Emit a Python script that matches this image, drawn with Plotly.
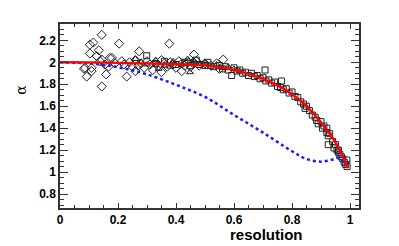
import plotly.graph_objects as go

# red fit curve
red_x = [0.0, 0.1, 0.2, 0.3, 0.4, 0.5, 0.55, 0.6, 0.65, 0.7, 0.75, 0.8, 0.85, 0.9, 0.95, 0.993]
red_y = [2.0, 1.998, 1.995, 1.99, 1.982, 1.972, 1.955, 1.93, 1.895, 1.85, 1.79, 1.71, 1.6, 1.45, 1.27, 1.035]

# blue dotted curve
blue_x = [0.0, 0.1, 0.2, 0.3, 0.4, 0.5, 0.6, 0.7, 0.8, 0.85, 0.9, 0.94, 0.965, 0.993]
blue_y = [2.0, 1.99, 1.955, 1.89, 1.795, 1.685, 1.52, 1.36, 1.19, 1.12, 1.095, 1.115, 1.13, 1.035]

# diamonds
dia_x = [0.083, 0.086, 0.092, 0.103, 0.103, 0.109, 0.109, 0.115, 0.127, 0.134, 0.138, 0.144, 0.144, 0.144,
         0.155, 0.159, 0.167, 0.172, 0.179, 0.19, 0.204, 0.213, 0.23, 0.273, 0.377, 0.462, 0.563,
         0.22, 0.24, 0.25, 0.26, 0.27, 0.28, 0.29, 0.30, 0.31, 0.32, 0.33, 0.34, 0.35, 0.36, 0.37,
         0.38, 0.39, 0.40, 0.41, 0.42, 0.43, 0.44, 0.45, 0.46, 0.47, 0.48, 0.50, 0.52, 0.54,
         0.26, 0.35, 0.42, 0.55]
dia_y = [1.94, 1.95, 1.87, 2.08, 2.16, 1.92, 1.95, 2.18, 2.055, 2.11, 2.01, 2.25, 1.78, 2.025,
         1.98, 1.89, 1.96, 2.04, 2.04, 1.99, 2.17, 2.01, 1.87, 2.10, 2.17, 2.07, 2.025,
         1.98, 2.00, 1.96, 2.02, 1.97, 1.99, 1.95, 2.01, 1.98, 1.93, 2.00, 1.97, 2.02, 1.99, 1.96,
         2.00, 1.98, 1.95, 2.01, 1.99, 1.97, 2.00, 1.96, 1.99, 2.01, 1.97, 1.99, 1.97, 1.99,
         1.92, 1.91, 1.92, 1.94]

# triangles
tri_x = [0.26, 0.28, 0.30, 0.33, 0.34, 0.36, 0.38, 0.39, 0.42, 0.44, 0.448, 0.46, 0.47, 0.50,
         0.52, 0.54, 0.56, 0.58, 0.60, 0.62]
tri_y = [2.03, 2.00, 1.98, 2.02, 1.94, 1.97, 1.96, 2.01, 1.98, 2.03, 1.91, 2.02, 1.99, 2.00,
         1.96, 1.98, 1.95, 1.96, 1.94, 1.92]

# squares
sq_x = [0.299, 0.33, 0.36, 0.40, 0.43, 0.45, 0.47, 0.48, 0.50, 0.51, 0.53, 0.55, 0.56, 0.57, 0.58,
        0.592, 0.60, 0.61, 0.62, 0.63, 0.64, 0.65, 0.66, 0.67, 0.68, 0.69, 0.70, 0.707, 0.71, 0.72,
        0.73, 0.74, 0.75, 0.764, 0.76, 0.77, 0.78, 0.79, 0.80, 0.81, 0.82, 0.83, 0.84, 0.845, 0.85,
        0.86, 0.87, 0.88, 0.885, 0.89, 0.90, 0.905, 0.91, 0.92, 0.92, 0.925, 0.925, 0.93, 0.94,
        0.945, 0.95, 0.955, 0.96, 0.96, 0.965, 0.97, 0.975, 0.98, 0.985, 0.989, 0.99]
sq_y = [2.06, 1.99, 2.01, 1.98, 2.00, 1.97, 2.02, 1.98, 1.97, 2.00, 1.96, 1.97, 1.94, 1.96, 1.93,
        1.88, 1.95, 1.92, 1.93, 1.90, 1.91, 1.88, 1.90, 1.87, 1.88, 1.85, 1.86, 1.93, 1.83, 1.84,
        1.81, 1.82, 1.78, 1.83, 1.77, 1.75, 1.76, 1.72, 1.73, 1.69, 1.68, 1.64, 1.62, 1.58, 1.60,
        1.56, 1.52, 1.50, 1.47, 1.44, 1.46, 1.40, 1.42, 1.36, 1.40, 1.33, 1.25, 1.35, 1.28,
        1.22, 1.25, 1.20, 1.18, 1.20, 1.16, 1.14, 1.12, 1.09, 1.07, 1.11, 1.05]

fig = go.Figure()
mk = dict(color="#222", line=dict(color="#222", width=1))
fig.add_trace(go.Scatter(x=dia_x, y=dia_y, mode="markers",
                         marker=dict(symbol="diamond-open", size=7, **mk)))
fig.add_trace(go.Scatter(x=tri_x, y=tri_y, mode="markers",
                         marker=dict(symbol="triangle-up-open", size=6, **mk)))
fig.add_trace(go.Scatter(x=sq_x, y=sq_y, mode="markers",
                         marker=dict(symbol="square-open", size=6, **mk)))
fig.add_trace(go.Scatter(x=blue_x, y=blue_y, mode="lines",
                         line=dict(color="#1a1aff", width=2.5, dash="dot", shape="spline")))
fig.add_trace(go.Scatter(x=red_x, y=red_y, mode="lines",
                         line=dict(color="#ff0000", width=2.4, shape="spline")))

tf = dict(family="Liberation Sans, Arial, sans-serif", size=12, color="black", weight="bold")
fig.update_xaxes(range=[0, 1.031], dtick=0.2, tick0=0, ticks="inside", ticklen=5, tickwidth=1,
                 tickcolor="#333", showline=True, linecolor="#333", linewidth=1.5, mirror="ticks",
                 showgrid=False, zeroline=False, tickfont=tf, automargin=False,
                 minor=dict(dtick=0.05, ticks="inside", ticklen=3, tickcolor="#333", showgrid=False))
fig.update_yaxes(range=[0.673, 2.349], dtick=0.2, tick0=0, ticks="inside", ticklen=8, tickwidth=1,
                 tickcolor="#333", showline=True, linecolor="#333", linewidth=1.5, mirror="ticks",
                 showgrid=False, zeroline=False, tickfont=tf, automargin=False,
                 minor=dict(dtick=0.05, ticks="inside", ticklen=4, tickcolor="#333", showgrid=False))

fig.add_annotation(text="resolution", xref="paper", yref="paper", x=1.0 - (359 - 305) / 299, y=-(234 - 208) / 183.5,
                   xanchor="right", yanchor="middle", showarrow=False,
                   font=dict(family="Liberation Sans, Arial, sans-serif", size=15, color="black", weight="bold"))
fig.add_annotation(text="α", xref="paper", yref="paper", x=-(60 - 21) / 299, y=1 - (90 - 24.5) / 183.5,
                   xanchor="center", yanchor="middle", showarrow=False, textangle=-90,
                   font=dict(family="DejaVu Serif, serif", size=14, color="black"))

fig.update_layout(width=399, height=246, margin=dict(l=60, r=40, t=24, b=38, autoexpand=False),
                  paper_bgcolor="white", plot_bgcolor="white", showlegend=False)
fig.write_html("out.html", config={"displayModeBar": False},
               post_script="document.body.style.margin='0px';")
